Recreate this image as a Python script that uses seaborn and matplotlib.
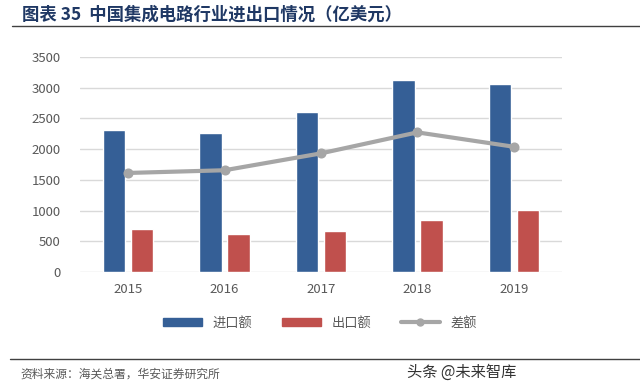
import seaborn as sns
import pandas as pd
import matplotlib.pyplot as plt
from matplotlib.lines import Line2D

sns.set_theme(style="white")
plt.rcParams['font.family'] = ['Noto Sans CJK SC', 'DejaVu Sans']

# data (亿美元)
years = ['2015', '2016', '2017', '2018', '2019']
imports = [2307, 2271, 2601, 3121, 3055]
exports = [693, 613, 669, 846, 1015]
balance = [1613, 1657, 1932, 2274, 2040]

bars = pd.DataFrame({'year': years * 2,
                     'value': imports + exports,
                     'kind': ['进口额'] * 5 + ['出口额'] * 5})
line = pd.DataFrame({'year': years, 'value': balance})

blue = '#355F96'
red = '#C0504D'
grey = '#A6A6A6'

fig = plt.figure(figsize=(6.4, 3.9), dpi=100)
ax = fig.add_axes([0.125, 0.3026, 0.753, 0.551])

sns.barplot(data=bars, x='year', y='value', hue='kind', order=years,
            palette=[blue, red], width=0.58, gap=0.2, saturation=1,
            ax=ax, legend=False)
sns.pointplot(data=line, x='year', y='value', order=years, color=grey,
              markers='o', markersize=5, linewidth=3, ax=ax)

ax.set_ylim(0, 3500)
ax.set_yticks(range(0, 3501, 500))
ax.set_xlim(-0.5, 4.5)
ax.set(xlabel=None, ylabel=None)
ax.yaxis.grid(True, color='#D9D9D9', linewidth=1)
ax.set_axisbelow(True)
sns.despine(ax=ax, left=True, bottom=True, top=True, right=True)
ax.tick_params(axis='both', length=0, labelsize=9.5, colors='#595959', pad=8)
ax.tick_params(axis='y', pad=14)

handles = [plt.Rectangle((0, 0), 1, 1, color=blue),
           plt.Rectangle((0, 0), 1, 1, color=red),
           Line2D([], [], color=grey, linewidth=3, marker='o', markersize=5)]
fig.legend(handles, ['进口额', '出口额', '差额'], loc='center',
           bbox_to_anchor=(0.5, 1 - 323 / 390), ncol=3, frameon=False,
           fontsize=9.5, handlelength=3, handleheight=0.6, columnspacing=2.2,
           labelcolor='#595959')

# title and footer
fig.text(22 / 640, 1 - 15 / 390, '图表 35  中国集成电路行业进出口情况（亿美元）',
         fontsize=12.5, fontweight='bold', color='#1F3864', va='center')
fig.add_artist(Line2D([12 / 640, 1], [1 - 26 / 390] * 2, color='#404040', linewidth=1))
fig.add_artist(Line2D([10 / 640, 1], [1 - 359 / 390] * 2, color='#404040', linewidth=1))
fig.text(20 / 640, 1 - 374 / 390, '资料来源：海关总署，华安证券研究所',
         fontsize=8.5, color='#595959', va='center')
fig.text(516 / 640, 1 - 372 / 390, '头条 @未来智库', fontsize=11,
         color='#333333', va='center', ha='right')

fig.savefig('out.png', dpi=100)
